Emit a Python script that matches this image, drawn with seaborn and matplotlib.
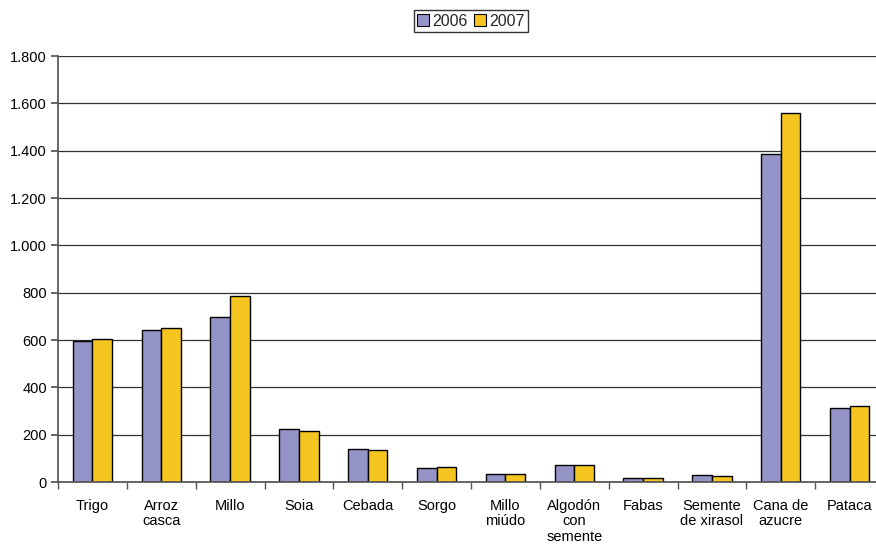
import matplotlib
matplotlib.use("Agg")
import matplotlib.pyplot as plt
import seaborn as sns
import pandas as pd
from matplotlib.ticker import FuncFormatter, FixedLocator
from matplotlib.patches import Patch

categories = ["Trigo", "Arroz\ncasca", "Millo", "Soia", "Cebada", "Sorgo", "Millo\nmiúdo",
              "Algodón\ncon\nsemente", "Fabas", "Semente\nde xirasol", "Cana de\nazucre", "Pataca"]
values_2006 = [597, 643, 698, 222, 138, 58, 32, 71, 19, 30, 1388, 314]
values_2007 = [605, 652, 786, 215, 135, 65, 32, 73, 18, 26, 1558, 322]
series = ["2006", "2007"]
colors = ["#9494C8", "#F5C520"]

df = pd.DataFrame({
    "cat": categories * 2,
    "val": values_2006 + values_2007,
    "year": [series[0]] * len(categories) + [series[1]] * len(categories),
})

sns.set_theme(style="white")
plt.rcParams["font.family"] = ["Liberation Sans", "DejaVu Sans"]

fig = plt.figure(figsize=(8.76, 5.48), dpi=100)
ax = fig.add_axes([58 / 876, 1 - 482 / 548, 826 / 876, (482 - 56) / 548])

sns.barplot(data=df, x="cat", y="val", hue="year", palette=colors, width=0.57,
            edgecolor="black", linewidth=1.0, ax=ax, saturation=1, legend=False)

ax.set_ylim(0, 1800)
ax.set_xlim(-0.5, len(categories) - 0.5)
ax.set_yticks(range(0, 1801, 200))
ax.yaxis.set_major_formatter(FuncFormatter(lambda v, p: f"{int(v):,}".replace(",", ".")))
ax.grid(axis="y", color="#333333", linewidth=0.9)
ax.set_axisbelow(True)
ax.set_xlabel("")
ax.set_ylabel("")
for s in ["top", "right"]:
    ax.spines[s].set_visible(False)
ax.spines["left"].set_color("#555555")
ax.spines["bottom"].set_color("#555555")
ax.tick_params(axis="y", left=True, length=5, color="#555555", labelsize=10.5, pad=3, labelcolor="black")
ax.tick_params(axis="x", which="major", bottom=False, labelsize=10.5, pad=6, labelcolor="black")
ax.xaxis.set_minor_locator(FixedLocator([i - 0.5 for i in range(len(categories) + 1)]))
ax.tick_params(axis="x", which="minor", bottom=True, length=5, color="#555555")
for lbl in ax.get_xticklabels():
    lbl.set_verticalalignment("top")
    lbl.set_linespacing(1.15)

handles = [Patch(facecolor=c, edgecolor="black", linewidth=0.8) for c in colors]
leg = fig.legend(handles, series, loc="center", bbox_to_anchor=(471 / 876, 1 - 21 / 548),
                 ncol=2, frameon=True, fontsize=11.5, handlelength=0.75, handleheight=0.75,
                 handletextpad=0.2, columnspacing=0.4, borderpad=0.2, fancybox=False,
                 borderaxespad=0)
leg.get_frame().set_edgecolor("black")
leg.get_frame().set_linewidth(1.0)

fig.savefig("out.png", dpi=100)
